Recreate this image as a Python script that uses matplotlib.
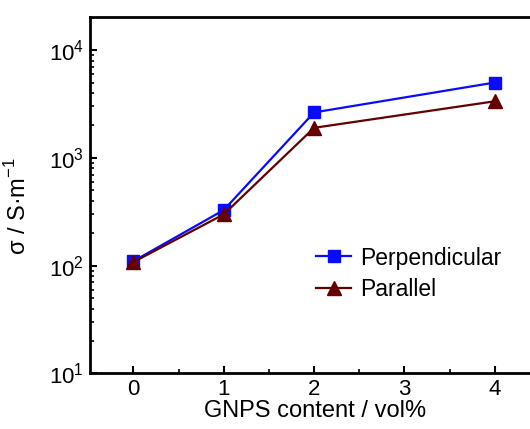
import matplotlib
matplotlib.use("Agg")
import matplotlib.pyplot as plt
from matplotlib.ticker import LogLocator, NullFormatter, MultipleLocator

plt.rcParams['font.family'] = ['Liberation Sans', 'DejaVu Sans']

# data
gnps = [0, 1, 2, 4]
perpendicular = [110, 328, 2640, 5000]
parallel = [108, 299, 1900, 3350]
xticks = [0, 1, 2, 3, 4]

fig = plt.figure(figsize=(5.30, 4.29), dpi=100)
ax = fig.add_axes([0.1689, 0.1294, 0.850, 0.8317])

ax.plot(gnps, perpendicular, color="#0a0aff", lw=1.6, marker="s", ms=8.5,
        label="Perpendicular", zorder=3)
ax.plot(gnps, parallel, color="#650000", lw=1.6, marker="^", ms=10.5,
        label="Parallel", zorder=3)

ax.set_yscale("log")
ax.set_ylim(10, 2.04e4)
ax.set_xlim(-0.485, 4.5)
ax.set_xticks(xticks)
ax.xaxis.set_minor_locator(MultipleLocator(0.5))
ax.yaxis.set_minor_locator(LogLocator(base=10, subs=range(2, 10)))
ax.yaxis.set_minor_formatter(NullFormatter())

ax.tick_params(which="major", direction="in", length=5, width=1.5,
               labelsize=16)
ax.tick_params(axis="x", pad=4)
ax.tick_params(axis="y", pad=4)
ax.tick_params(which="minor", direction="in", length=3, width=1.2)
ax.tick_params(axis="y", which="both", right=False)
ax.tick_params(axis="x", which="both", top=False)

for s in ax.spines.values():
    s.set_linewidth(2)

ax.set_xlabel("GNPS content / vol%", fontsize=17, labelpad=0)
ax.set_ylabel(r"σ / S·m$^{\mathregular{-1}}$", fontsize=17)
ax.yaxis.set_label_coords(-0.13, 0.47)

ax.legend(loc="upper left", bbox_to_anchor=(316 / 530, 1 - 246.5 / 429),
          bbox_transform=fig.transFigure, frameon=False, fontsize=16.5,
          handlelength=1.53, handletextpad=0.4, labelspacing=0.35,
          borderaxespad=0, borderpad=0)

fig.savefig("out.png", dpi=100)
